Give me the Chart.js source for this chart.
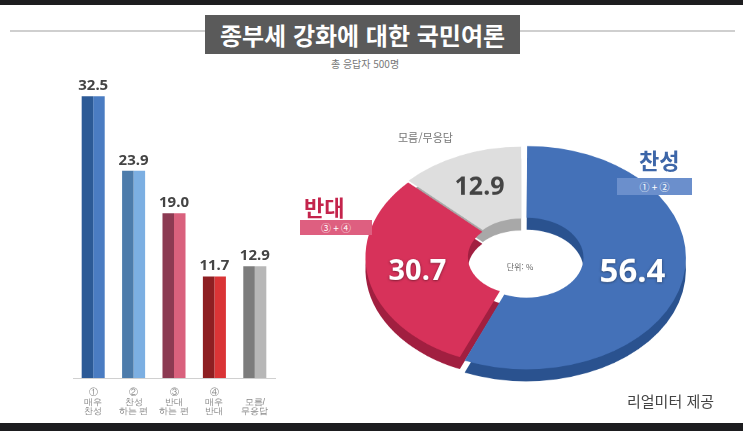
<!DOCTYPE html>
<html lang="ko">
<head>
<meta charset="utf-8">
<script src="https://cdn.jsdelivr.net/npm/chart.js@4.4.1/dist/chart.umd.min.js"></script>
<style>
  body { margin: 0; background: #1d1d1f; }
  #page { position: relative; width: 743px; height: 431px; overflow: hidden; font-family: "Noto Sans CJK KR", "Noto Sans", sans-serif; }
  #panel { position: absolute; left: 0; top: 5px; width: 743px; height: 418px; background: #fff; }
  .abs { position: absolute; white-space: nowrap; }
  #rule { left: 10px; top: 30px; width: 725px; height: 2px; background: #cfcfcf; }
  #title { left: 205px; top: 15px; width: 315px; height: 39px; background: #5a5a5a; color: #fff; font-weight: 700; font-size: 24px; line-height: 39px; text-align: center; }
  #sub { left: 265px; top: 56px; width: 200px; text-align: center; font-size: 10px; color: #777; }
  #barChart { position: absolute; left: 63px; top: 66px; }
  #pieShadow, #pieChart { position: absolute; left: 342px; transform: scaleY(0.7); transform-origin: 50% 50%; }
  #pieShadow { top: 89px; }
  #pieChart { top: 77px; }
  .tag { color: #fff; font-size: 10px; text-align: center; }
</style>
</head>
<body>
<div id="page">
  <div id="panel"></div>
  <div class="abs" id="rule"></div>
  <div class="abs" id="title">종부세 강화에 대한 국민여론</div>
  <div class="abs" id="sub">총 응답자 500명</div>
  <canvas id="barChart" width="222" height="357"></canvas>
  <canvas id="pieShadow" width="360" height="360"></canvas>
  <canvas id="pieChart" width="360" height="360"></canvas>
  <div class="abs" style="left:398px; top:129px; font-size:11px; color:#777;">모름/무응답</div>
  <div class="abs" style="left:639px; top:143px; font-size:22px; font-weight:700; color:#3d66a8;">찬성</div>
  <div class="abs tag" style="left:617px; top:178px; width:75px; height:17px; line-height:17px; background:#6b8fcc;">① + ②</div>
  <div class="abs" style="left:304px; top:190px; font-size:22px; font-weight:700; color:#c4244c;">반대</div>
  <div class="abs tag" style="left:300px; top:220px; width:72px; height:15px; line-height:15px; background:#de5f80;">③ + ④</div>
  <div class="abs" style="left:490px; top:261px; width:60px; text-align:center; font-size:8px; color:#666;">단위: %</div>
  <div class="abs" style="left:627px; top:390px; font-size:15px; color:#444;">리얼미터 제공</div>
</div>
<script>
// bar chart data
const barLabels = [['①', '매우', '찬성'], ['②', '찬성', '하는 편'], ['③', '반대', '하는 편'], ['④', '매우', '반대'], ['', '모름/', '무응답']];
const barValues = [32.5, 23.9, 19.0, 11.7, 12.9];
const barDark = ['#2c5a96', '#4d7cab', '#8c3a52', '#8e1f22', '#7c7c7c'];
const barLight = ['#4a7cc2', '#7cafe2', '#d9617d', '#da3436', '#b7b7b7'];

// doughnut data
const pieLabels = ['찬성', '반대', '모름/무응답'];
const pieValues = [56.4, 30.7, 12.9];
const pieTop = ['#4471b8', '#d7325a', '#dedede'];
const pieSide = ['#2a528f', '#a11f40', '#a8a8a8'];
const pieText = ['#ffffff', '#ffffff', '#444444'];
const pieFont = [33, 29, 25];
const pieOffset = [18, 6, 8];

const squash = 0.7;

const barValuePlugin = {
  id: 'barValues',
  afterDatasetsDraw(chart) {
    const ctx = chart.ctx;
    const left = chart.getDatasetMeta(0).data;
    const right = chart.getDatasetMeta(1).data;
    ctx.save();
    ctx.font = 'bold 15px "Noto Sans", sans-serif';
    ctx.fillStyle = '#444';
    ctx.textAlign = 'center';
    ctx.textBaseline = 'bottom';
    left.forEach((bar, i) => {
      const x = (bar.x + right[i].x) / 2;
      ctx.fillText(barValues[i].toFixed(1), x, bar.y - 3);
    });
    ctx.restore();
  }
};

new Chart(document.getElementById('barChart'), {
  type: 'bar',
  data: {
    labels: barLabels,
    datasets: [
      { data: barValues, backgroundColor: barDark },
      { data: barValues, backgroundColor: barLight }
    ]
  },
  options: {
    responsive: false,
    animation: false,
    events: [],
    layout: { padding: { left: 10, right: 10, top: 0, bottom: 0 } },
    categoryPercentage: 0.57,
    barPercentage: 1,
    plugins: { legend: { display: false }, tooltip: { enabled: false } },
    scales: {
      x: {
        grid: { display: false },
        border: { display: true, color: '#d0d0d0', width: 1 },
        ticks: { color: '#888', font: { size: 9, lineHeight: 1.05 }, padding: 2, maxRotation: 0 },
        afterFit(scale) { scale.height = 45; }
      },
      y: { display: false, min: 0, max: 36 }
    }
  },
  plugins: [barValuePlugin]
});

const pieValuePlugin = {
  id: 'pieValues',
  afterDatasetsDraw(chart) {
    const ctx = chart.ctx;
    ctx.save();
    ctx.textAlign = 'center';
    ctx.textBaseline = 'middle';
    chart.getDatasetMeta(0).data.forEach((arc, i) => {
      const p = arc.tooltipPosition();
      ctx.save();
      ctx.translate(p.x, p.y);
      ctx.scale(1, 1 / squash);
      ctx.font = 'bold ' + pieFont[i] + 'px "Noto Sans", sans-serif';
      if (i < 2) {
        ctx.shadowColor = 'rgba(0,0,0,0.45)';
        ctx.shadowBlur = 3;
        ctx.shadowOffsetY = 1;
      }
      ctx.fillStyle = pieText[i];
      ctx.fillText(pieValues[i].toFixed(1), 0, 0);
      ctx.restore();
    });
    ctx.restore();
  }
};

function pieConfig(colors, plugins) {
  return {
    type: 'doughnut',
    data: {
      labels: pieLabels,
      datasets: [{ data: pieValues, backgroundColor: colors, borderWidth: 0, offset: pieOffset }]
    },
    options: {
      responsive: false,
      animation: false,
      events: [],
      radius: 155,
      cutout: 58,
      rotation: 0,
      plugins: { legend: { display: false }, tooltip: { enabled: false } }
    },
    plugins: plugins
  };
}

new Chart(document.getElementById('pieShadow'), pieConfig(pieSide, []));
new Chart(document.getElementById('pieChart'), pieConfig(pieTop, [pieValuePlugin]));
</script>
</body>
</html>
